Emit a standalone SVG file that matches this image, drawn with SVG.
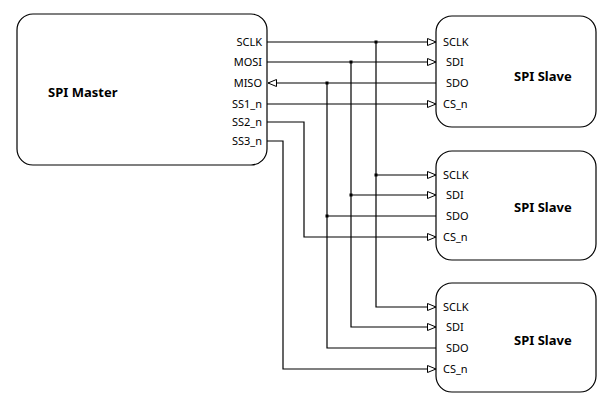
<svg xmlns="http://www.w3.org/2000/svg" width="610" height="402" viewBox="0 0 610 402">
<style>
.box{fill:#fff;stroke:#000;stroke-width:1.2}
.t{font-family:"Noto Sans","Open Sans",sans-serif;font-size:11px;fill:#000}
.b{font-family:"Noto Sans","Open Sans",sans-serif;font-size:13px;font-weight:bold;fill:#000}
.w{fill:none;stroke:#000;stroke-width:1.2}
.a{marker-end:url(#arr)}
</style>
<defs>
<marker id="arr" markerUnits="userSpaceOnUse" markerWidth="12" markerHeight="10" refX="9" refY="4" orient="auto">
<path d="M0.5,0.5 L9,4 L0.5,7.5 Z" fill="#fff" stroke="#000" stroke-width="1"/>
</marker>
</defs>
<rect width="610" height="402" fill="#fff"/>
<g id="master">
<rect class="box" x="17" y="14" width="250" height="151" rx="16"/>
<text class="b" x="48" y="97">SPI Master</text>
<g class="t" text-anchor="end">
<text x="262" y="46">SCLK</text>
<text x="262" y="66">MOSI</text>
<text x="262" y="87">MISO</text>
<text x="262" y="108">SS1_n</text>
<text x="262" y="126">SS2_n</text>
<text x="262" y="145">SS3_n</text>
</g>
</g>
<g id="slave1">
<rect class="box" x="436" y="16" width="160" height="111" rx="16"/>
<text class="b" x="514" y="81">SPI Slave</text>
<g class="t">
<text x="443" y="46">SCLK</text>
<text x="446" y="66">SDI</text>
<text x="446" y="87">SDO</text>
<text x="443" y="108">CS_n</text>
</g>
</g>
<g id="slave2">
<rect class="box" x="436" y="151" width="160" height="109" rx="16"/>
<text class="b" x="514" y="212">SPI Slave</text>
<g class="t">
<text x="443" y="179">SCLK</text>
<text x="446" y="199">SDI</text>
<text x="446" y="220">SDO</text>
<text x="443" y="241">CS_n</text>
</g>
</g>
<g id="slave3">
<rect class="box" x="436" y="283" width="160" height="109" rx="16"/>
<text class="b" x="514" y="345">SPI Slave</text>
<g class="t">
<text x="443" y="311">SCLK</text>
<text x="446" y="331">SDI</text>
<text x="446" y="352">SDO</text>
<text x="443" y="373">CS_n</text>
</g>
</g>
<g id="connectors">
<path class="w a" d="M267,42 H436"/>
<path class="w a" d="M376,175 H436"/>
<path class="w a" d="M376,42 V307 H436"/>
<path class="w a" d="M267,62 H436"/>
<path class="w a" d="M351,195 H436"/>
<path class="w a" d="M351,62 V327 H436"/>
<path class="w a" d="M436,83 H268"/>
<path class="w" d="M327,216 H436"/>
<path class="w" d="M327,83 V348 H436"/>
<path class="w a" d="M267,104 H436"/>
<path class="w a" d="M267,122 H304 V237 H436"/>
<path class="w a" d="M267,141 H283 V369 H436"/>
<g fill="#000">
<rect x="374.5" y="40.5" width="3" height="3"/>
<rect x="349.5" y="60.5" width="3" height="3"/>
<rect x="325.5" y="81.5" width="3" height="3"/>
<rect x="374.5" y="173.5" width="3" height="3"/>
<rect x="349.5" y="193.5" width="3" height="3"/>
<rect x="325.5" y="214.5" width="3" height="3"/>
</g>
</g>
</svg>
